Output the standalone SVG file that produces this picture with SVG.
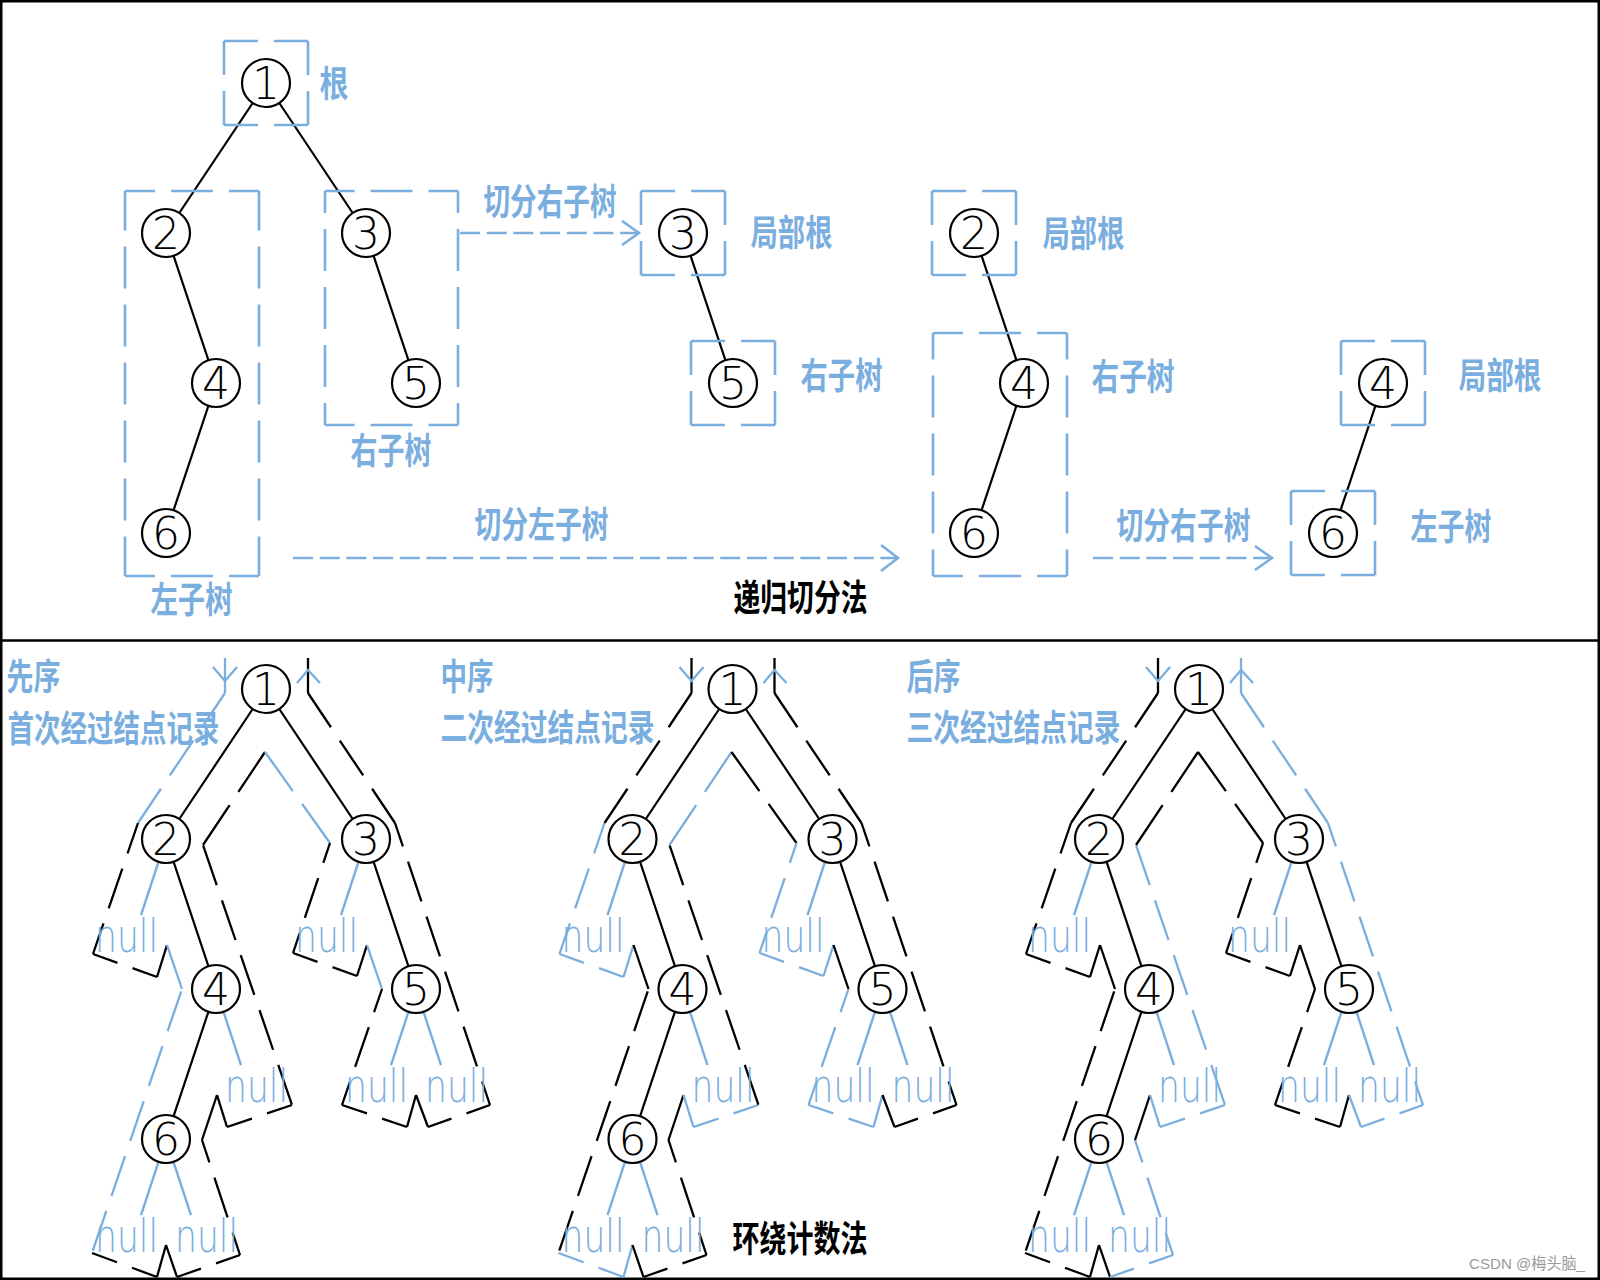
<svg xmlns="http://www.w3.org/2000/svg" width="1600" height="1280" viewBox="0 0 1600 1280">
<style>
.n circle{fill:#fff;stroke:#000;stroke-width:2.2}
.n text{font-family:"DejaVu Sans","Liberation Sans",sans-serif;font-weight:200;font-size:44px;text-anchor:middle;fill:#000}
.e{stroke:#000;stroke-width:2.2;fill:none}
.ne{stroke:#7aaedf;stroke-width:2.4;fill:none}
.nl{font-family:"DejaVu Sans","Liberation Sans",sans-serif;font-weight:200;font-size:47px;fill:#7aaedf}
.bd{stroke:#7aaedf;stroke-width:2.6;stroke-dasharray:42 16;fill:none}
.ar{stroke:#7aaedf;stroke-width:2.6;stroke-dasharray:20 6.7;fill:none}
.ah{stroke:#7aaedf;stroke-width:2.6;fill:none}
.lb{font-family:"Noto Sans CJK SC","Noto Sans CJK JP",sans-serif;font-size:36px;font-weight:bold;fill:#7aaedf}
.tt{font-family:"Noto Sans CJK SC","Noto Sans CJK JP",sans-serif;font-size:36px;font-weight:bold;fill:#000}
.cd{stroke-dasharray:42 16}
.cl{stroke-dasharray:48 15.8}
.k{stroke:#000}
.b{stroke:#7aaedf}
.ct{fill:none;stroke-width:2.3}
</style>
<defs>
<path id="shL" d="M225 658V693"/>
<path id="s1" class="cd" stroke-dashoffset="0.8" d="M225 693L138 823"/>
<path id="s2" class="cd" stroke-dashoffset="9.75" d="M138 823L93 954"/>
<path id="s3" class="cd" stroke-dashoffset="16" d="M93 954L157 977"/>
<path id="s4" d="M157 977L167 945"/>
<path id="s5" d="M167 945L182 989"/>
<path id="s6" class="cd" stroke-dashoffset="55.55" d="M182 989L92 1253"/>
<path id="s7" class="cd" stroke-dashoffset="15.35" d="M92 1253L157 1277"/>
<path id="s8" d="M157 1277L166 1245"/>
<path id="s9" d="M166 1245L177 1277"/>
<path id="s10" class="cd" stroke-dashoffset="16.65" d="M177 1277L240 1255"/>
<path id="s11" class="cd" stroke-dashoffset="18.45" d="M240 1255L202 1140"/>
<path id="s12" d="M202 1140L217 1095"/>
<path id="s13" d="M217 1095L227 1127"/>
<path id="s14" class="cd" stroke-dashoffset="15.7" d="M227 1127L292 1105"/>
<path id="s15" class="cd" stroke-dashoffset="57.6" d="M292 1105L203 845"/>
<path id="s16" class="cl" d="M203 845L265 752"/>
<path id="s17" class="cl" d="M265 752L330 843"/>
<path id="s18" class="cd" stroke-dashoffset="21" d="M330 843L293 953"/>
<path id="s19" class="cd" stroke-dashoffset="16" d="M293 953L357 976"/>
<path id="s20" d="M357 976L367 945"/>
<path id="s21" d="M367 945L382 989"/>
<path id="s22" class="cd" stroke-dashoffset="17.65" d="M382 989L342 1105"/>
<path id="s23" class="cd" stroke-dashoffset="15.7" d="M342 1105L407 1127"/>
<path id="s24" d="M407 1127L416 1095"/>
<path id="s25" d="M416 1095L428 1127"/>
<path id="s26" class="cd" stroke-dashoffset="17.1" d="M428 1127L490 1105"/>
<path id="s27" class="cd" stroke-dashoffset="17.2" d="M490 1105L395 823"/>
<path id="s28" class="cd" stroke-dashoffset="0.8" d="M395 823L308 693"/>
<path id="shR" d="M308 693V658"/>
<path id="chL" d="M213 667L225 681L237 667"/>
<path id="chR" d="M297 683L308 670L320 683"/>
</defs>
<rect width="1600" height="1280" fill="#fff"/>
<rect id="frame" x="1.25" y="1.25" width="1597.5" height="1277.5" fill="none" stroke="#000" stroke-width="2.5"/>
<line id="separator" x1="0" y1="640.5" x2="1600" y2="640.5" stroke="#000" stroke-width="2.5"/>

<!-- ===== TOP: recursive split ===== -->
<g id="top-connectors">
<g class="e">
<line x1="252.7" y1="103" x2="179.3" y2="213"/>
<line x1="279.3" y1="103" x2="352.7" y2="213"/>
<line x1="173.6" y1="255.8" x2="208.4" y2="360.2"/>
<line x1="373.6" y1="255.8" x2="408.4" y2="360.2"/>
<line x1="208.4" y1="405.8" x2="173.6" y2="510.2"/>
<line x1="690.6" y1="255.8" x2="725.4" y2="360.2"/>
<line x1="981.6" y1="255.8" x2="1016.4" y2="360.2"/>
<line x1="1016.4" y1="405.8" x2="981.6" y2="510.2"/>
<line x1="1375.4" y1="405.8" x2="1340.6" y2="510.2"/>
</g>
<g id="boxes">
<g class="bd" stroke-dashoffset="8">
<line x1="224" y1="41" x2="308" y2="41"/><line x1="224" y1="125" x2="308" y2="125"/><line x1="224" y1="41" x2="224" y2="125"/><line x1="308" y1="41" x2="308" y2="125"/>
<line x1="641" y1="191" x2="725" y2="191"/><line x1="641" y1="275" x2="725" y2="275"/><line x1="641" y1="191" x2="641" y2="275"/><line x1="725" y1="191" x2="725" y2="275"/>
<line x1="691" y1="341" x2="775" y2="341"/><line x1="691" y1="425" x2="775" y2="425"/><line x1="691" y1="341" x2="691" y2="425"/><line x1="775" y1="341" x2="775" y2="425"/>
<line x1="932" y1="191" x2="1016" y2="191"/><line x1="932" y1="275" x2="1016" y2="275"/><line x1="932" y1="191" x2="932" y2="275"/><line x1="1016" y1="191" x2="1016" y2="275"/>
<line x1="1341" y1="341" x2="1425" y2="341"/><line x1="1341" y1="425" x2="1425" y2="425"/><line x1="1341" y1="341" x2="1341" y2="425"/><line x1="1425" y1="341" x2="1425" y2="425"/>
<line x1="1291" y1="491" x2="1375" y2="491"/><line x1="1291" y1="575" x2="1375" y2="575"/><line x1="1291" y1="491" x2="1291" y2="575"/><line x1="1375" y1="491" x2="1375" y2="575"/>
</g>
<g class="bd">
<line stroke-dashoffset="12" x1="125" y1="191" x2="259" y2="191"/><line stroke-dashoffset="12" x1="125" y1="576" x2="259" y2="576"/>
<line stroke-dashoffset="2.5" x1="125" y1="191" x2="125" y2="576"/><line stroke-dashoffset="2.5" x1="259" y1="191" x2="259" y2="576"/>
<line stroke-dashoffset="12.5" x1="325" y1="191" x2="458" y2="191"/><line stroke-dashoffset="12.5" x1="325" y1="425" x2="458" y2="425"/>
<line stroke-dashoffset="20" x1="325" y1="191" x2="325" y2="425"/><line stroke-dashoffset="20" x1="458" y1="191" x2="458" y2="425"/>
<line stroke-dashoffset="12" x1="933" y1="333" x2="1067" y2="333"/><line stroke-dashoffset="12" x1="933" y1="576" x2="1067" y2="576"/>
<line stroke-dashoffset="15.5" x1="933" y1="333" x2="933" y2="576"/><line stroke-dashoffset="15.5" x1="1067" y1="333" x2="1067" y2="576"/>
</g>
</g>
<g id="split-arrows">
<line class="ar" x1="460" y1="233" x2="639" y2="233"/><path class="ah" d="M622 221L639 233L622 245"/>
<line class="ar" x1="293" y1="558" x2="898" y2="558"/><path class="ah" d="M881 545L898 558L881 571"/>
<line class="ar" x1="1093" y1="558" x2="1272" y2="558"/><path class="ah" d="M1255 546L1272 558L1255 570"/>
</g>
</g>
<g id="top-nodes">
<g id="a1" class="n"><circle cx="266" cy="83" r="24"/><text x="266" y="99">1</text></g>
<g id="a2" class="n"><circle cx="166" cy="233" r="24"/><text x="166" y="249">2</text></g>
<g id="a3" class="n"><circle cx="366" cy="233" r="24"/><text x="366" y="249">3</text></g>
<g id="a4" class="n"><circle cx="216" cy="383" r="24"/><text x="216" y="399">4</text></g>
<g id="a5" class="n"><circle cx="416" cy="383" r="24"/><text x="416" y="399">5</text></g>
<g id="a6" class="n"><circle cx="166" cy="533" r="24"/><text x="166" y="549">6</text></g>
<g id="b3" class="n"><circle cx="683" cy="233" r="24"/><text x="683" y="249">3</text></g>
<g id="b5" class="n"><circle cx="733" cy="383" r="24"/><text x="733" y="399">5</text></g>
<g id="c2" class="n"><circle cx="974" cy="233" r="24"/><text x="974" y="249">2</text></g>
<g id="c4" class="n"><circle cx="1024" cy="383" r="24"/><text x="1024" y="399">4</text></g>
<g id="c6" class="n"><circle cx="974" cy="533" r="24"/><text x="974" y="549">6</text></g>
<g id="d4" class="n"><circle cx="1383" cy="383" r="24"/><text x="1383" y="399">4</text></g>
<g id="d6" class="n"><circle cx="1333" cy="533" r="24"/><text x="1333" y="549">6</text></g>
</g>
<g id="top-labels">
<text class="lb" x="319.5" y="97" textLength="29" lengthAdjust="spacingAndGlyphs">根</text>
<text class="lb" x="150.5" y="613" textLength="82" lengthAdjust="spacingAndGlyphs">左子树</text>
<text class="lb" x="350.5" y="464" textLength="81" lengthAdjust="spacingAndGlyphs">右子树</text>
<text class="lb" x="483.5" y="215" textLength="133" lengthAdjust="spacingAndGlyphs">切分右子树</text>
<text class="lb" x="750.5" y="246" textLength="82" lengthAdjust="spacingAndGlyphs">局部根</text>
<text class="lb" x="800.5" y="389" textLength="82" lengthAdjust="spacingAndGlyphs">右子树</text>
<text class="lb" x="474.5" y="538" textLength="134" lengthAdjust="spacingAndGlyphs">切分左子树</text>
<text class="lb" x="1042.5" y="247" textLength="82" lengthAdjust="spacingAndGlyphs">局部根</text>
<text class="lb" x="1091.5" y="390" textLength="83" lengthAdjust="spacingAndGlyphs">右子树</text>
<text class="lb" x="1116.5" y="539" textLength="134" lengthAdjust="spacingAndGlyphs">切分右子树</text>
<text class="lb" x="1458.5" y="389" textLength="83" lengthAdjust="spacingAndGlyphs">局部根</text>
<text class="lb" x="1410.5" y="540" textLength="81" lengthAdjust="spacingAndGlyphs">左子树</text>
<text class="tt" x="733.5" y="611" textLength="134" lengthAdjust="spacingAndGlyphs">递归切分法</text>
</g>

<!-- ===== BOTTOM: walk-around counting ===== -->
<g id="bottom-labels">
<text class="lb" x="6.5" y="690" textLength="54" lengthAdjust="spacingAndGlyphs">先序</text>
<text class="lb" transform="translate(7.5 742) scale(0.736 1)">首次经过结点记录</text>
<text class="lb" x="440.5" y="690" textLength="53" lengthAdjust="spacingAndGlyphs">中序</text>
<text class="lb" transform="translate(440.5 741) scale(0.743 1)">二次经过结点记录</text>
<text class="lb" x="906.5" y="690" textLength="54" lengthAdjust="spacingAndGlyphs">后序</text>
<text class="lb" transform="translate(906.5 741) scale(0.743 1)">三次经过结点记录</text>
<text class="tt" x="732.5" y="1252" textLength="135" lengthAdjust="spacingAndGlyphs">环绕计数法</text>
</g>

<g id="tree-preorder">
<g id="contour-pre" class="ct">
<use href="#shL" class="b"/><use href="#s1" class="b"/><use href="#s2" class="k"/><use href="#s3" class="k"/><use href="#s4" class="k"/><use href="#s5" class="b"/><use href="#s6" class="b"/><use href="#s7" class="k"/><use href="#s8" class="k"/><use href="#s9" class="k"/><use href="#s10" class="k"/><use href="#s11" class="k"/><use href="#s12" class="k"/><use href="#s13" class="k"/><use href="#s14" class="k"/><use href="#s15" class="k"/><use href="#s16" class="k"/><use href="#s17" class="b"/><use href="#s18" class="k"/><use href="#s19" class="k"/><use href="#s20" class="k"/><use href="#s21" class="b"/><use href="#s22" class="k"/><use href="#s23" class="k"/><use href="#s24" class="k"/><use href="#s25" class="k"/><use href="#s26" class="k"/><use href="#s27" class="k"/><use href="#s28" class="k"/><use href="#shR" class="k"/><use href="#chL" class="b"/><use href="#chR" class="b"/>
</g>
<g id="edges-pre" class="e">
<line x1="252.7" y1="709" x2="179.3" y2="819"/><line x1="279.3" y1="709" x2="352.7" y2="819"/>
<line x1="173.6" y1="861.8" x2="208.4" y2="966.2"/><line x1="373.6" y1="861.8" x2="408.4" y2="966.2"/>
<line x1="208.4" y1="1011.8" x2="173.6" y2="1116.2"/>
</g>
<g id="nulls-pre">
<g class="ne">
<line x1="158.5" y1="861.8" x2="141" y2="915"/><line x1="358.5" y1="861.8" x2="341" y2="915"/>
<line x1="223.5" y1="1011.8" x2="241" y2="1065"/><line x1="408.5" y1="1011.8" x2="391" y2="1065"/>
<line x1="423.5" y1="1011.8" x2="441" y2="1065"/><line x1="158.5" y1="1161.8" x2="141" y2="1215"/>
<line x1="173.5" y1="1161.8" x2="191" y2="1215"/>
</g>
<text class="nl" x="95" y="951.7" textLength="63" lengthAdjust="spacingAndGlyphs">null</text>
<text class="nl" x="295" y="951.7" textLength="63" lengthAdjust="spacingAndGlyphs">null</text>
<text class="nl" x="225" y="1101.7" textLength="63" lengthAdjust="spacingAndGlyphs">null</text>
<text class="nl" x="345" y="1101.7" textLength="63" lengthAdjust="spacingAndGlyphs">null</text>
<text class="nl" x="425" y="1101.7" textLength="63" lengthAdjust="spacingAndGlyphs">null</text>
<text class="nl" x="95" y="1251.7" textLength="63" lengthAdjust="spacingAndGlyphs">null</text>
<text class="nl" x="175" y="1251.7" textLength="63" lengthAdjust="spacingAndGlyphs">null</text>
</g>
<g id="p1" class="n"><circle cx="266" cy="689" r="24"/><text x="266" y="705">1</text></g>
<g id="p2" class="n"><circle cx="166" cy="839" r="24"/><text x="166" y="855">2</text></g>
<g id="p3" class="n"><circle cx="366" cy="839" r="24"/><text x="366" y="855">3</text></g>
<g id="p4" class="n"><circle cx="216" cy="989" r="24"/><text x="216" y="1005">4</text></g>
<g id="p5" class="n"><circle cx="416" cy="989" r="24"/><text x="416" y="1005">5</text></g>
<g id="p6" class="n"><circle cx="166" cy="1139" r="24"/><text x="166" y="1155">6</text></g>
</g>

<g id="tree-inorder" transform="translate(466.5 0)">
<g id="contour-in" class="ct">
<use href="#shL" class="k"/><use href="#s1" class="k"/><use href="#s2" class="b"/><use href="#s3" class="b"/><use href="#s4" class="b"/><use href="#s5" class="k"/><use href="#s6" class="k"/><use href="#s7" class="b"/><use href="#s8" class="b"/><use href="#s9" class="k"/><use href="#s10" class="k"/><use href="#s11" class="k"/><use href="#s12" class="k"/><use href="#s13" class="b"/><use href="#s14" class="b"/><use href="#s15" class="k"/><use href="#s16" class="b"/><use href="#s17" class="k"/><use href="#s18" class="b"/><use href="#s19" class="b"/><use href="#s20" class="b"/><use href="#s21" class="k"/><use href="#s22" class="b"/><use href="#s23" class="b"/><use href="#s24" class="b"/><use href="#s25" class="k"/><use href="#s26" class="k"/><use href="#s27" class="k"/><use href="#s28" class="k"/><use href="#shR" class="k"/><use href="#chL" class="b"/><use href="#chR" class="b"/>
</g>
<g id="edges-in" class="e">
<line x1="252.7" y1="709" x2="179.3" y2="819"/><line x1="279.3" y1="709" x2="352.7" y2="819"/>
<line x1="173.6" y1="861.8" x2="208.4" y2="966.2"/><line x1="373.6" y1="861.8" x2="408.4" y2="966.2"/>
<line x1="208.4" y1="1011.8" x2="173.6" y2="1116.2"/>
</g>
<g id="nulls-in">
<g class="ne">
<line x1="158.5" y1="861.8" x2="141" y2="915"/><line x1="358.5" y1="861.8" x2="341" y2="915"/>
<line x1="223.5" y1="1011.8" x2="241" y2="1065"/><line x1="408.5" y1="1011.8" x2="391" y2="1065"/>
<line x1="423.5" y1="1011.8" x2="441" y2="1065"/><line x1="158.5" y1="1161.8" x2="141" y2="1215"/>
<line x1="173.5" y1="1161.8" x2="191" y2="1215"/>
</g>
<text class="nl" x="95" y="951.7" textLength="63" lengthAdjust="spacingAndGlyphs">null</text>
<text class="nl" x="295" y="951.7" textLength="63" lengthAdjust="spacingAndGlyphs">null</text>
<text class="nl" x="225" y="1101.7" textLength="63" lengthAdjust="spacingAndGlyphs">null</text>
<text class="nl" x="345" y="1101.7" textLength="63" lengthAdjust="spacingAndGlyphs">null</text>
<text class="nl" x="425" y="1101.7" textLength="63" lengthAdjust="spacingAndGlyphs">null</text>
<text class="nl" x="95" y="1251.7" textLength="63" lengthAdjust="spacingAndGlyphs">null</text>
<text class="nl" x="175" y="1251.7" textLength="63" lengthAdjust="spacingAndGlyphs">null</text>
</g>
<g id="i1" class="n"><circle cx="266" cy="689" r="24"/><text x="266" y="705">1</text></g>
<g id="i2" class="n"><circle cx="166" cy="839" r="24"/><text x="166" y="855">2</text></g>
<g id="i3" class="n"><circle cx="366" cy="839" r="24"/><text x="366" y="855">3</text></g>
<g id="i4" class="n"><circle cx="216" cy="989" r="24"/><text x="216" y="1005">4</text></g>
<g id="i5" class="n"><circle cx="416" cy="989" r="24"/><text x="416" y="1005">5</text></g>
<g id="i6" class="n"><circle cx="166" cy="1139" r="24"/><text x="166" y="1155">6</text></g>
</g>

<g id="tree-postorder" transform="translate(933 0)">
<g id="contour-post" class="ct">
<use href="#shL" class="k"/><use href="#s1" class="k"/><use href="#s2" class="k"/><use href="#s3" class="k"/><use href="#s4" class="k"/><use href="#s5" class="k"/><use href="#s6" class="k"/><use href="#s7" class="k"/><use href="#s8" class="k"/><use href="#s9" class="k"/><use href="#s10" class="b"/><use href="#s11" class="b"/><use href="#s12" class="k"/><use href="#s13" class="b"/><use href="#s14" class="b"/><use href="#s15" class="b"/><use href="#s16" class="k"/><use href="#s17" class="k"/><use href="#s18" class="k"/><use href="#s19" class="k"/><use href="#s20" class="k"/><use href="#s21" class="k"/><use href="#s22" class="k"/><use href="#s23" class="k"/><use href="#s24" class="k"/><use href="#s25" class="b"/><use href="#s26" class="b"/><use href="#s27" class="b"/><use href="#s28" class="b"/><use href="#shR" class="b"/><use href="#chL" class="b"/><use href="#chR" class="b"/>
</g>
<g id="edges-post" class="e">
<line x1="252.7" y1="709" x2="179.3" y2="819"/><line x1="279.3" y1="709" x2="352.7" y2="819"/>
<line x1="173.6" y1="861.8" x2="208.4" y2="966.2"/><line x1="373.6" y1="861.8" x2="408.4" y2="966.2"/>
<line x1="208.4" y1="1011.8" x2="173.6" y2="1116.2"/>
</g>
<g id="nulls-post">
<g class="ne">
<line x1="158.5" y1="861.8" x2="141" y2="915"/><line x1="358.5" y1="861.8" x2="341" y2="915"/>
<line x1="223.5" y1="1011.8" x2="241" y2="1065"/><line x1="408.5" y1="1011.8" x2="391" y2="1065"/>
<line x1="423.5" y1="1011.8" x2="441" y2="1065"/><line x1="158.5" y1="1161.8" x2="141" y2="1215"/>
<line x1="173.5" y1="1161.8" x2="191" y2="1215"/>
</g>
<text class="nl" x="95" y="951.7" textLength="63" lengthAdjust="spacingAndGlyphs">null</text>
<text class="nl" x="295" y="951.7" textLength="63" lengthAdjust="spacingAndGlyphs">null</text>
<text class="nl" x="225" y="1101.7" textLength="63" lengthAdjust="spacingAndGlyphs">null</text>
<text class="nl" x="345" y="1101.7" textLength="63" lengthAdjust="spacingAndGlyphs">null</text>
<text class="nl" x="425" y="1101.7" textLength="63" lengthAdjust="spacingAndGlyphs">null</text>
<text class="nl" x="95" y="1251.7" textLength="63" lengthAdjust="spacingAndGlyphs">null</text>
<text class="nl" x="175" y="1251.7" textLength="63" lengthAdjust="spacingAndGlyphs">null</text>
</g>
<g id="o1" class="n"><circle cx="266" cy="689" r="24"/><text x="266" y="705">1</text></g>
<g id="o2" class="n"><circle cx="166" cy="839" r="24"/><text x="166" y="855">2</text></g>
<g id="o3" class="n"><circle cx="366" cy="839" r="24"/><text x="366" y="855">3</text></g>
<g id="o4" class="n"><circle cx="216" cy="989" r="24"/><text x="216" y="1005">4</text></g>
<g id="o5" class="n"><circle cx="416" cy="989" r="24"/><text x="416" y="1005">5</text></g>
<g id="o6" class="n"><circle cx="166" cy="1139" r="24"/><text x="166" y="1155">6</text></g>
</g>

<text id="watermark" x="1469" y="1268.5" font-family="'Liberation Sans','Noto Sans CJK SC',sans-serif" font-size="15.5" fill="#9a9a9a" textLength="116" lengthAdjust="spacingAndGlyphs">CSDN @梅头脑_</text>
</svg>
